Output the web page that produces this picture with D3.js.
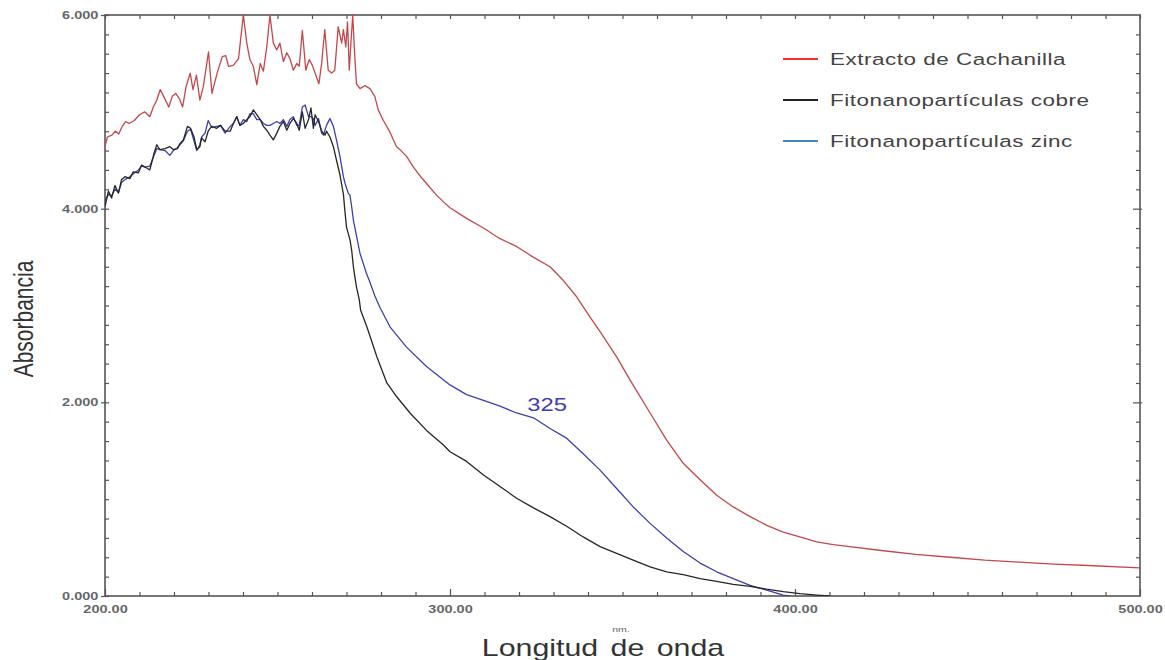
<!DOCTYPE html>
<html>
<head>
<meta charset="utf-8">
<script src="https://cdn.jsdelivr.net/npm/d3@7"></script>
<style>
  body { margin: 0; background: #fff; }
  svg { display: block; font-family: "Liberation Sans", Arial, sans-serif; }
</style>
</head>
<body>
<svg id="chart" width="1165" height="660"></svg>
<script>
// spectra: [wavelength nm, absorbance]
const extractoCachanilla = [
  [200.0, 4.64], [200.7, 4.74], [202.0, 4.76], [203.0, 4.80], [204.0, 4.77], [205.0, 4.85],
  [206.0, 4.90], [207.0, 4.88], [208.5, 4.91], [210.0, 4.97], [211.5, 5.00], [213.0, 4.95],
  [214.0, 5.05], [215.0, 5.12], [216.0, 5.23], [217.0, 5.16], [218.5, 5.05], [219.5, 5.16],
  [220.5, 5.19], [221.5, 5.14], [222.5, 5.05], [223.5, 5.26], [224.7, 5.40], [225.5, 5.23],
  [226.5, 5.38], [227.5, 5.12], [228.5, 5.26], [230.0, 5.62], [231.0, 5.19], [232.5, 5.40],
  [234.0, 5.57], [235.0, 5.58], [235.8, 5.47], [237.2, 5.48], [238.7, 5.55], [240.1, 6.00],
  [241.1, 5.71], [242.0, 5.54], [243.0, 5.47], [244.0, 5.28], [245.0, 5.50], [245.9, 5.42],
  [246.9, 5.67], [247.8, 6.00], [248.8, 5.71], [249.8, 5.64], [250.7, 5.71], [251.7, 5.52],
  [252.7, 5.61], [253.6, 5.55], [254.6, 5.43], [255.6, 5.50], [256.3, 5.47], [257.2, 5.84],
  [258.2, 5.43], [259.2, 5.54], [260.1, 5.48], [261.1, 5.38], [262.0, 5.29], [262.8, 5.50],
  [263.7, 5.85], [264.7, 5.43], [265.7, 5.40], [266.6, 5.43], [267.6, 5.88], [268.6, 5.71],
  [269.1, 5.85], [269.8, 5.67], [270.3, 5.93], [270.8, 5.43], [271.8, 6.00], [272.4, 5.57],
  [272.9, 5.29], [273.9, 5.24], [275.3, 5.27], [276.8, 5.24], [278.2, 5.16], [279.2, 5.02],
  [280.7, 4.91], [282.6, 4.79], [284.5, 4.64], [285.5, 4.61], [287.4, 4.54], [289.4, 4.43],
  [291.5, 4.33], [293.2, 4.26], [296.1, 4.14], [298.1, 4.07], [300.0, 4.01], [304.8, 3.90],
  [309.7, 3.80], [314.5, 3.69], [319.3, 3.61], [324.1, 3.50], [329.0, 3.40], [332.8, 3.26],
  [336.7, 3.09], [340.6, 2.88], [343.5, 2.73], [348.3, 2.47], [352.2, 2.23], [358.0, 1.89],
  [362.8, 1.61], [367.6, 1.37], [372.5, 1.20], [377.3, 1.04], [382.1, 0.92], [387.0, 0.82],
  [391.8, 0.73], [396.6, 0.66], [401.4, 0.61], [406.3, 0.56], [411.1, 0.53], [415.9, 0.51],
  [425.0, 0.47], [435.0, 0.43], [445.0, 0.40], [455.0, 0.37], [465.0, 0.35], [475.0, 0.33],
  [485.0, 0.315], [500.0, 0.29]
];

const fitoCobre = [
  [200.0, 4.02], [201.0, 4.18], [201.9, 4.11], [202.9, 4.24], [203.9, 4.16], [204.8, 4.30],
  [205.8, 4.33], [207.2, 4.31], [208.2, 4.38], [209.7, 4.37], [210.6, 4.45], [211.6, 4.43],
  [213.0, 4.40], [214.2, 4.57], [215.0, 4.66], [215.9, 4.61], [217.4, 4.62], [218.8, 4.64],
  [219.8, 4.61], [221.0, 4.62], [221.7, 4.67], [222.7, 4.71], [223.9, 4.85], [224.8, 4.83],
  [225.8, 4.74], [226.6, 4.61], [227.5, 4.64], [228.0, 4.73], [229.0, 4.69], [229.9, 4.80],
  [230.9, 4.85], [232.4, 4.83], [233.5, 4.86], [234.8, 4.80], [236.3, 4.80], [237.2, 4.88],
  [238.2, 4.95], [239.1, 4.86], [240.1, 4.88], [241.1, 4.92], [242.0, 4.95], [243.0, 5.02],
  [244.0, 4.97], [245.0, 4.92], [245.9, 4.85], [246.9, 4.81], [247.8, 4.76], [248.8, 4.71],
  [249.8, 4.78], [250.7, 4.85], [251.7, 4.90], [252.7, 4.81], [253.6, 4.88], [254.6, 4.93],
  [255.6, 4.88], [256.3, 4.81], [257.2, 5.00], [258.0, 4.83], [259.0, 4.92], [259.7, 5.04],
  [260.4, 4.83], [260.9, 4.97], [261.9, 4.90], [262.8, 4.80], [263.8, 4.76], [264.2, 4.80],
  [265.2, 4.74], [266.2, 4.64], [267.1, 4.50], [268.1, 4.35], [269.1, 4.15], [269.5, 3.99],
  [270.0, 3.81], [271.0, 3.68], [271.5, 3.57], [272.0, 3.40], [272.4, 3.30], [272.9, 3.19],
  [273.7, 3.06], [274.1, 2.95], [275.9, 2.78], [278.8, 2.47], [281.7, 2.20], [284.5, 2.06],
  [288.4, 1.89], [293.2, 1.71], [298.1, 1.56], [300.0, 1.49], [304.8, 1.39], [309.7, 1.25],
  [314.5, 1.13], [319.3, 1.01], [324.2, 0.91], [329.0, 0.82], [333.8, 0.72], [338.6, 0.61],
  [343.5, 0.51], [348.3, 0.44], [353.1, 0.37], [358.0, 0.30], [362.8, 0.25], [367.6, 0.22],
  [372.5, 0.18], [377.3, 0.15], [382.1, 0.12], [387.0, 0.10], [391.8, 0.07], [396.6, 0.045],
  [401.4, 0.024], [406.3, 0.01], [410.1, 0.0]
];

const fitoZinc = [
  [200.0, 4.08], [201.0, 4.15], [201.9, 4.13], [202.9, 4.20], [203.9, 4.17], [204.8, 4.27],
  [205.8, 4.30], [207.2, 4.33], [208.2, 4.36], [209.7, 4.40], [210.6, 4.44], [211.6, 4.43],
  [213.0, 4.44], [214.2, 4.55], [215.0, 4.62], [215.9, 4.61], [217.4, 4.60], [218.8, 4.55],
  [219.8, 4.60], [221.0, 4.63], [221.7, 4.66], [222.7, 4.70], [223.9, 4.80], [224.8, 4.82],
  [225.8, 4.70], [226.6, 4.60], [227.5, 4.66], [228.0, 4.74], [229.0, 4.78], [229.9, 4.91],
  [230.9, 4.84], [232.4, 4.85], [233.5, 4.86], [234.8, 4.78], [236.3, 4.85], [237.2, 4.88],
  [238.2, 4.95], [239.1, 4.86], [240.1, 4.92], [241.1, 4.90], [242.0, 4.98], [243.0, 4.98],
  [244.0, 4.92], [245.0, 4.92], [245.9, 4.88], [246.9, 4.86], [247.8, 4.86], [248.8, 4.88],
  [249.8, 4.90], [250.7, 4.88], [251.7, 4.92], [252.7, 4.85], [253.6, 4.92], [254.6, 4.95],
  [255.6, 4.86], [256.3, 4.86], [257.2, 5.05], [258.0, 5.07], [259.0, 4.95], [259.7, 4.95],
  [260.4, 4.93], [260.9, 4.86], [261.9, 4.93], [262.8, 4.78], [263.3, 4.76], [264.2, 4.86],
  [265.2, 4.93], [266.2, 4.85], [267.1, 4.71], [268.1, 4.54], [269.1, 4.33], [269.6, 4.26],
  [270.5, 4.16], [271.0, 4.14], [271.5, 4.02], [272.0, 3.88], [272.9, 3.72], [273.9, 3.54],
  [274.9, 3.43], [275.8, 3.33], [276.8, 3.24], [278.2, 3.10], [279.7, 2.98], [282.6, 2.78],
  [287.4, 2.57], [293.2, 2.37], [300.0, 2.18], [304.8, 2.08], [309.7, 2.02], [314.5, 1.96],
  [319.3, 1.89], [324.2, 1.84], [329.0, 1.73], [333.8, 1.63], [338.6, 1.47], [343.5, 1.30],
  [348.3, 1.11], [353.1, 0.92], [358.0, 0.75], [362.8, 0.60], [367.6, 0.46], [372.5, 0.34],
  [377.3, 0.25], [382.1, 0.18], [387.0, 0.11], [391.8, 0.06], [396.6, 0.01], [398.6, 0.0]
];

const seriesNames = ["Extracto de Cachanilla", "Fitonanopartículas cobre", "Fitonanopartículas zinc"];
const xMajorTicks = [200, 300, 400, 500];
const yMajorTicks = [0, 2, 4, 6];
const peakLabel = { nm: 325, abs: 1.91, text: "325" };

const svg = d3.select("#chart");

// plot area edges
const plotLeft = 105, plotRight = 1140, plotTop = 15, plotBottom = 596;
// the source picture is stretched sideways, so text is too
const stretch = 1.32;

const x = d3.scaleLinear().domain([200, 500]).range([plotLeft, plotRight]);
const y = d3.scaleLinear().domain([0, 6]).range([plotBottom, plotTop]);

const xMinor = d3.range(200, 501, 10).filter(v => v % 100 !== 0);
const yMinor = d3.range(0, 30.1, 1).map(v => v / 5).filter(v => Math.round(v * 5) % 10 !== 0);

const axisColor = "#555";

function styleAxis(g) {
  g.select(".domain").remove();
  g.selectAll(".tick line").attr("stroke", axisColor).attr("stroke-width", 1.2);
  g.selectAll(".tick text")
    .attr("fill", "#666")
    .attr("transform", `scale(${stretch},1)`)
    .style("font-size", "11px")
    .style("font-weight", "bold");
}

// bottom axis: labels + inward ticks
svg.append("g")
  .attr("transform", `translate(0,${plotBottom})`)
  .call(d3.axisBottom(x).tickValues(xMajorTicks).tickSizeInner(-7).tickSizeOuter(0)
    .tickPadding(9).tickFormat(d => d.toFixed(2)))
  .call(styleAxis);
svg.append("g")
  .attr("transform", `translate(0,${plotBottom})`)
  .call(d3.axisBottom(x).tickValues(xMinor).tickSizeInner(-4).tickSizeOuter(0).tickFormat(""))
  .call(styleAxis);

// top axis ticks
svg.append("g")
  .attr("transform", `translate(0,${plotTop})`)
  .call(d3.axisTop(x).tickValues(xMinor.concat(xMajorTicks)).tickSizeInner(-4).tickSizeOuter(0).tickFormat(""))
  .call(styleAxis);

// left axis: labels with small outward tick, plus inward ticks
svg.append("g")
  .attr("transform", `translate(${plotLeft},0)`)
  .call(d3.axisLeft(y).tickValues(yMajorTicks).tickSizeInner(4).tickSizeOuter(0)
    .tickPadding(1).tickFormat(d => d.toFixed(3)))
  .call(styleAxis);
svg.append("g")
  .attr("transform", `translate(${plotLeft},0)`)
  .call(d3.axisLeft(y).tickValues(yMinor.concat(yMajorTicks)).tickSizeInner(-4).tickSizeOuter(0).tickFormat(""))
  .call(styleAxis);

// right axis ticks
svg.append("g")
  .attr("transform", `translate(${plotRight},0)`)
  .call(d3.axisRight(y).tickValues(yMinor).tickSizeInner(-4).tickSizeOuter(0).tickFormat(""))
  .call(styleAxis);
svg.append("g")
  .attr("transform", `translate(${plotRight - 7},0)`)
  .call(d3.axisRight(y).tickValues(yMajorTicks.slice(1, 3)).tickSizeInner(9).tickSizeOuter(0).tickFormat(""))
  .call(styleAxis);

// frame
svg.append("rect")
  .attr("x", plotLeft).attr("y", plotTop)
  .attr("width", plotRight - plotLeft).attr("height", plotBottom - plotTop)
  .attr("fill", "none").attr("stroke", axisColor).attr("stroke-width", 1.6);

// curves
svg.append("clipPath").attr("id", "plot-clip")
  .append("rect").attr("x", plotLeft).attr("y", plotTop - 1)
  .attr("width", plotRight - plotLeft).attr("height", plotBottom - plotTop + 1);

const line = d3.line().x(d => x(d[0])).y(d => y(d[1]));
const curves = [
  { data: extractoCachanilla, color: "#c4474c" },
  { data: fitoZinc, color: "#3d3fae" },
  { data: fitoCobre, color: "#262626" }
];
svg.append("g").attr("clip-path", "url(#plot-clip)")
  .selectAll("path")
  .data(curves)
  .enter()
  .append("path")
  .attr("d", d => line(d.data))
  .attr("fill", "none")
  .attr("stroke", d => d.color)
  .attr("stroke-width", 1.3)
  .attr("stroke-linejoin", "round");

// peak annotation
svg.append("text")
  .attr("transform", `translate(${x(peakLabel.nm) - 9},${y(peakLabel.abs)}) scale(${stretch},1)`)
  .attr("fill", "#3c3cb4")
  .style("font-size", "18px")
  .text(peakLabel.text);

// legend
const legendColors = ["#ff2a2a", "#222222", "#3d86cc"];
const legend = svg.append("g").attr("transform", "translate(783,59)");
seriesNames.forEach((name, i) => {
  const row = legend.append("g").attr("transform", `translate(0,${i * 41})`);
  row.append("line").attr("x1", 0).attr("x2", 35).attr("y1", 0).attr("y2", 0)
    .attr("stroke", legendColors[i]).attr("stroke-width", 2);
  row.append("text")
    .attr("transform", `translate(47,6) scale(${stretch},1)`)
    .attr("fill", "#444")
    .style("font-size", "17px")
    .style("letter-spacing", "0.4px")
    .text(name);
});

// axis titles
svg.append("text")
  .attr("transform", `translate(603,656) scale(${stretch},1)`)
  .attr("text-anchor", "middle")
  .attr("fill", "#333")
  .style("font-size", "23px")
  .style("word-spacing", "3px")
  .text("Longitud de onda");

svg.append("text")
  .attr("transform", `translate(621,632) scale(${stretch},1)`)
  .attr("text-anchor", "middle")
  .attr("fill", "#666")
  .style("font-size", "8px")
  .text("nm.");

svg.append("text")
  .attr("transform", `translate(33,319) scale(${stretch},1) rotate(-90)`)
  .attr("text-anchor", "middle")
  .attr("fill", "#333")
  .style("font-size", "21px")
  .text("Absorbancia");
</script>
</body>
</html>
